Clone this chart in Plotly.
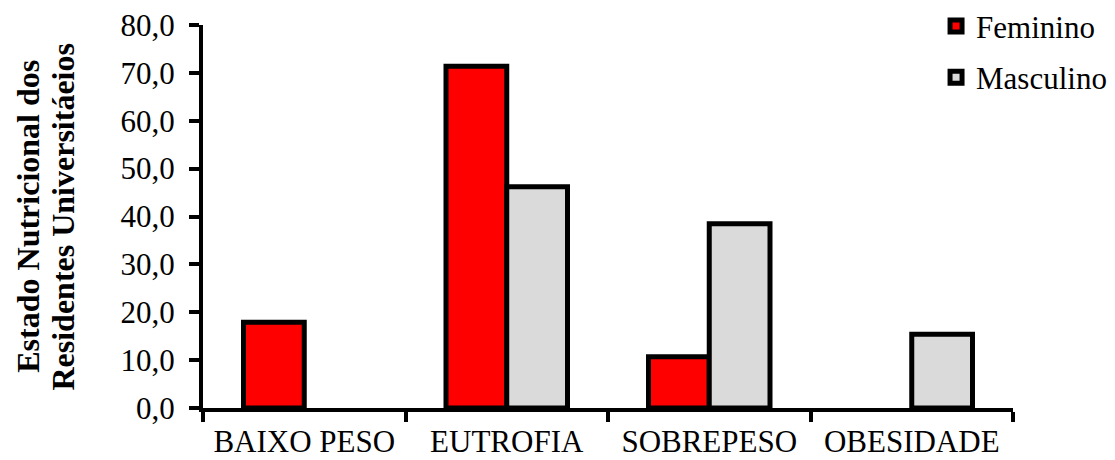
import plotly.graph_objects as go

# Estado nutricional (%) por sexo; None = categoria sem casos
categorias = ["BAIXO PESO", "EUTROFIA", "SOBREPESO", "OBESIDADE"]
feminino = [17.9, 71.4, 10.7, None]
masculino = [None, 46.2, 38.5, 15.4]
y_ticks = [0, 10, 20, 30, 40, 50, 60, 70, 80]

FONT = "Liberation Serif, Times New Roman, serif"

fig = go.Figure()
fig.add_trace(go.Bar(
    name="Feminino", x=categorias, y=feminino, legendgroup="f",
    marker=dict(color="#FF0000", line=dict(color="black", width=5)),
))
fig.add_trace(go.Bar(
    name="Masculino", x=categorias, y=masculino, legendgroup="m",
    marker=dict(color="#DADADA", line=dict(color="black", width=5)),
))

fig.update_layout(
    width=1115, height=460,
    margin=dict(l=203, r=102, t=25, b=52, autoexpand=False),
    paper_bgcolor="white", plot_bgcolor="white",
    separators=",.",
    barmode="group", bargap=0.4, bargroupgap=0,
    font=dict(family=FONT, size=30, color="black"),
    showlegend=True,
    legend=dict(
        x=0.905, y=1.067, xanchor="left", yanchor="top",
        xref="paper", yref="paper",
        font=dict(family=FONT, size=31, color="black"),
        bgcolor="rgba(0,0,0,0)", itemwidth=30,
        traceorder="grouped", tracegroupgap=8,
    ),
)

fig.update_xaxes(
    type="category", tickangle=0, automargin=False,
    showline=True, linecolor="black", linewidth=4,
    ticks="outside", tickson="boundaries", ticklen=10, tickwidth=4, tickcolor="black",
    showgrid=False, zeroline=False,
    tickfont=dict(family=FONT, size=31, color="black"),
    ticklabelstandoff=3,
)
fig.update_yaxes(
    range=[0, 80], tickvals=y_ticks, tickformat=".1f", automargin=False,
    showline=True, linecolor="black", linewidth=4,
    ticks="outside", ticklen=10, tickwidth=4, tickcolor="black",
    showgrid=False, zeroline=False,
    tickfont=dict(family=FONT, size=31, color="black"),
    ticklabelstandoff=8,
)

# Título do eixo Y em duas linhas
fig.add_annotation(
    text="<b>Estado Nutricional dos</b>", textangle=-90,
    xref="paper", yref="paper", x=-0.217, y=0.5,
    xanchor="center", yanchor="middle", showarrow=False,
    font=dict(family=FONT, size=32, color="black"),
)
fig.add_annotation(
    text="<b>Residentes Universitáeios</b>", textangle=-90,
    xref="paper", yref="paper", x=-0.174, y=0.5,
    xanchor="center", yanchor="middle", showarrow=False,
    font=dict(family=FONT, size=32, color="black"),
)

fig.write_html("out.html")
